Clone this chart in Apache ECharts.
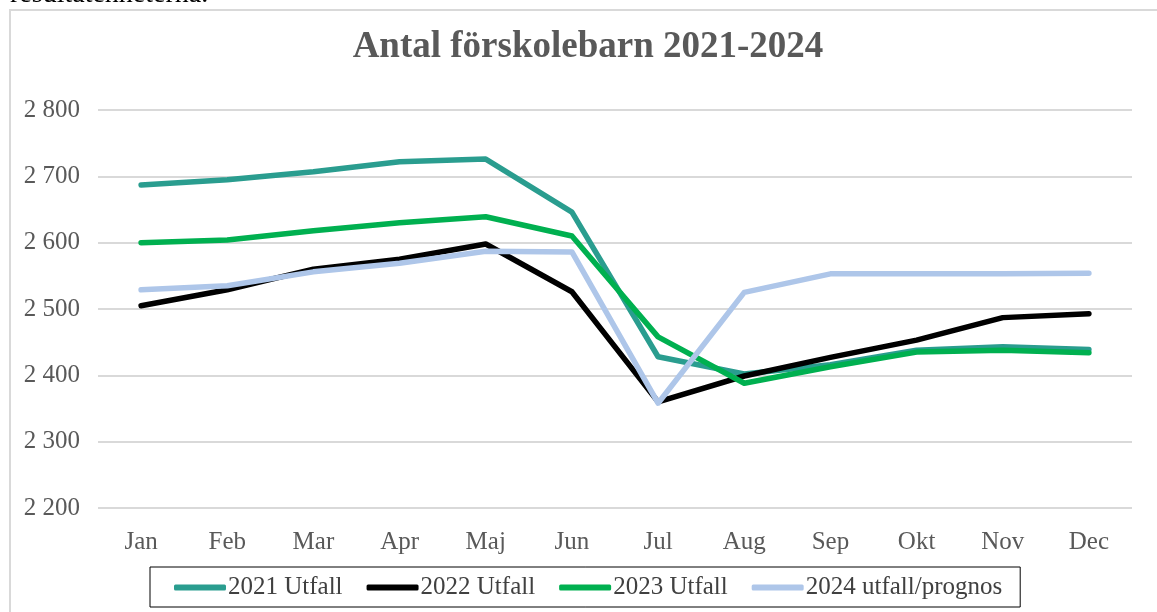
<!DOCTYPE html>
<html><head><meta charset="utf-8">
<script src="https://cdn.jsdelivr.net/npm/echarts@6/dist/echarts.min.js"></script>
<style>html,body{margin:0;padding:0;background:#fff}#c{width:1157px;height:612px}</style>
</head><body><div id="c"></div>
<script>
const categories = ['Jan','Feb','Mar','Apr','Maj','Jun','Jul','Aug','Sep','Okt','Nov','Dec'];
const s2021 = [2687,2695,2707,2722,2726,2646,2428,2402,2416,2438,2443,2439];
const s2022 = [2505,2529,2560,2575,2598,2526,2360,2399,2427,2453,2487,2493];
const s2023 = [2600,2604,2618,2630,2639,2610,2458,2388,2413,2435,2438,2434];
const s2024 = [2529,2535,2556,2569,2587,2586,2358,2525,2553,2553,2553,2554];
const yTicks = [2200,2300,2400,2500,2600,2700,2800];
const seriesNames = ['2021 Utfall','2022 Utfall','2023 Utfall','2024 utfall/prognos'];
const colors = ['#2a9d8f','#000000','#00b050','#aec6e9'];

const chart = echarts.init(document.getElementById('c'));
const font = '"Liberation Serif", "Times New Roman", serif';
const fmt = v => String(v).replace(/\B(?=(\d{3})+(?!\d))/g, ' ');
const data = [s2021, s2022, s2023, s2024];
chart.setOption({
  animation: false,
  textStyle: {fontFamily: font},
  graphic: [
    {type:'rect', shape:{x:10, y:10, width:1170, height:630}, style:{fill:'none', stroke:'#d9d9d9', lineWidth:2}, silent:true},
    {type:'text', x: 10, y: -19, style:{text:'resultatenheterna.', fontFamily: font, fontSize: 28, fill:'#000', align:'left'}, silent:true}
  ],
  title: {
    text: 'Antal förskolebarn 2021-2024',
    left: 583, top: 24, textAlign: 'center',
    textStyle: {fontFamily: font, fontWeight: 'bold', fontSize: 37, color: '#595959'}
  },
  legend: {
    bottom: 5, left: 150,
    data: seriesNames,
    icon: 'roundRect', itemWidth: 52, itemHeight: 6, itemGap: 24,
    borderColor: '#000', borderWidth: 1, padding: [8, 18, 7, 24],
    textStyle: {fontFamily: font, fontSize: 25, color: '#404040', padding: [0,0,0,-3]}
  },
  grid: {left: 98, right: 25, top: 110, bottom: 104},
  xAxis: {
    type: 'category', data: categories, boundaryGap: true,
    axisLine: {show: false}, axisTick: {show: false},
    axisLabel: {fontFamily: font, fontSize: 25, color: '#595959', margin: 22}
  },
  yAxis: {
    type: 'value', min: yTicks[0], max: yTicks[yTicks.length-1], interval: 100,
    axisLine: {show: false}, axisTick: {show: false},
    splitLine: {lineStyle: {color: '#d9d9d9', width: 2}},
    axisLabel: {fontFamily: font, fontSize: 25, color: '#595959', margin: 18, formatter: fmt}
  },
  series: seriesNames.map((n, i) => ({
    name: n, type: 'line', data: data[i], symbol: 'none',
    lineStyle: {color: colors[i], width: 5.5, cap: 'round', join: 'round'},
    itemStyle: {color: colors[i]}
  }))
});
</script></body></html>
